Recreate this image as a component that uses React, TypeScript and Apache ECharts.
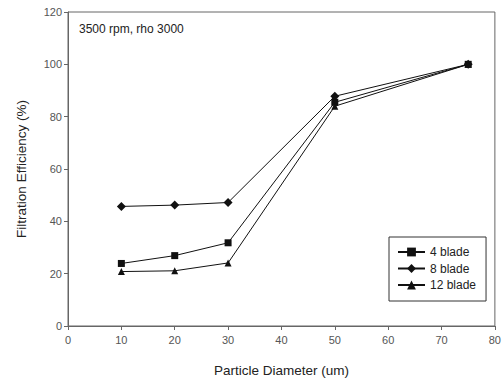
import React, { useEffect, useRef } from "react";
import * as echarts from "echarts";

const diameters = [10, 20, 30, 50, 75];
const blade4 = [23.9, 26.9, 31.8, 85.5, 100];
const blade8 = [45.7, 46.2, 47.2, 87.8, 100];
const blade12 = [20.8, 21.1, 24.1, 84.0, 100];
const seriesNames = ["4 blade", "8 blade", "12 blade"];
const symbols = ["rect", "diamond", "triangle"];
const annotation = "3500 rpm, rho 3000";

export default function App() {
  const ref = useRef<HTMLDivElement>(null);
  useEffect(() => {
    if (!ref.current) return;
    const chart = echarts.init(ref.current, null, { renderer: "svg" });
    const font = "'Liberation Sans', Arial, sans-serif";
    const all = [blade4, blade8, blade12];
    chart.setOption({
      animation: false,
      backgroundColor: "#ffffff",
      textStyle: { fontFamily: font },
      grid: { left: 68, top: 12, right: 9, bottom: 55, show: true, borderColor: "#666", borderWidth: 1 },
      xAxis: {
        type: "value",
        min: 0,
        max: 80,
        interval: 10,
        name: "Particle Diameter (um)",
        nameLocation: "middle",
        nameGap: 37,
        nameTextStyle: { fontSize: 13.5, color: "#222", fontFamily: font },
        axisLine: { show: true, lineStyle: { color: "#666" } },
        axisTick: { show: true, inside: false, length: 4, lineStyle: { color: "#666" } },
        axisLabel: { fontSize: 11, color: "#555", margin: 8, fontFamily: font },
        splitLine: { show: false },
      },
      yAxis: {
        type: "value",
        min: 0,
        max: 120,
        interval: 20,
        name: "Filtration Efficiency (%)",
        nameLocation: "middle",
        nameGap: 40,
        nameTextStyle: { fontSize: 13.5, color: "#222", fontFamily: font },
        axisLine: { show: true, lineStyle: { color: "#666" } },
        axisTick: { show: true, inside: false, length: 4, lineStyle: { color: "#666" } },
        axisLabel: { fontSize: 11, color: "#555", margin: 6, fontFamily: font },
        splitLine: { show: false },
      },
      legend: {
        orient: "vertical",
        left: 389,
        top: 237,
        padding: [9, 10, 10, 8],
        itemGap: 4.5,
        itemWidth: 27,
        itemHeight: 11,
        borderColor: "#333",
        borderWidth: 1,
        backgroundColor: "#fff",
        textStyle: { fontSize: 12, color: "#222", fontFamily: font, padding: [0, 0, 0, 0] },
        data: seriesNames,
      },
      graphic: [
        {
          type: "text",
          left: 79,
          top: 23,
          style: { text: annotation, fontSize: 12, fill: "#222", fontFamily: font },
        },
      ],
      series: seriesNames.map((name, i) => ({
        name,
        type: "line",
        data: diameters.map((d, j) => [d, all[i][j]]),
        symbol: symbols[i],
        symbolSize: i === 1 ? 9 : 7,
        lineStyle: { color: "#111", width: 1 },
        itemStyle: { color: "#111" },
        emphasis: { disabled: true },
      })),
    });
    return () => chart.dispose();
  }, []);
  return <div ref={ref} style={{ width: 504, height: 382, position: "absolute", left: 0, top: 0 }} />;
}
